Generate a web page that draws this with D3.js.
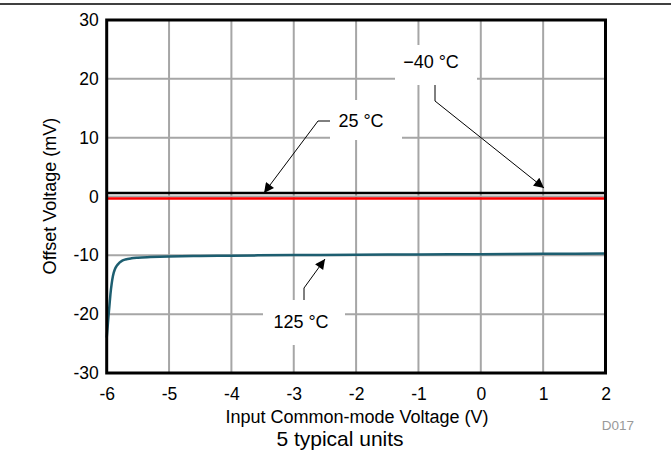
<!DOCTYPE html>
<html><head><meta charset="utf-8">
<script src="https://cdn.jsdelivr.net/npm/d3@7"></script>
<style>
body{margin:0;background:#fff;}
svg{display:block;font-family:"Liberation Sans",Arial,Helvetica,sans-serif;}
</style></head>
<body>
<svg id="chart" width="671" height="462"></svg>
<script>
const xTicks = [-6,-5,-4,-3,-2,-1,0,1,2];
const yTicks = [-30,-20,-10,0,10,20,30];
const xLabels = ["-6","-5","-4","-3","-2","-1","0","1","2"];
const yLabels = ["-30","-20","-10","0","10","20","30"];

const vcm125 = [-6.0,-5.99,-5.98,-5.97,-5.96,-5.95,-5.94,-5.92,-5.9,-5.87,-5.84,-5.8,-5.75,-5.7,-5.6,-5.5,-5.3,-5.0,-4.5,-4.0,-3.0,-2.0,-1.0,0.0,1.0,2.0];
const vos125 = [-24.0,-22.8,-21.5,-20.2,-19.0,-17.8,-16.6,-14.8,-13.5,-12.4,-11.8,-11.3,-10.9,-10.7,-10.5,-10.4,-10.3,-10.2,-10.1,-10.05,-9.95,-9.9,-9.85,-9.8,-9.75,-9.7];
const vcmFlat = [-6,-4,-2,0,2];
const vosM40 = [0.6,0.6,0.6,0.6,0.6];
const vos25 = [-0.35,-0.35,-0.35,-0.35,-0.35];

const svg = d3.select("#chart");
const L=106.7, R=605.5, T=20, B=373;
const x = d3.scaleLinear().domain([-6,2]).range([L,R]);
const y = d3.scaleLinear().domain([-30,30]).range([B,T]);

// top rule
svg.append("line").attr("x1",0).attr("x2",671).attr("y1",4).attr("y2",4)
  .attr("stroke","#000").attr("stroke-width",1.5);

// grid
const g = svg.append("g");
g.selectAll(".vx").data(xTicks.slice(1,-1)).join("line")
  .attr("x1",d=>x(d)).attr("x2",d=>x(d)).attr("y1",T).attr("y2",B)
  .attr("stroke","#a6a6a6").attr("stroke-width",2);
g.selectAll(".hy").data(yTicks.slice(1,-1)).join("line")
  .attr("y1",d=>y(d)).attr("y2",d=>y(d)).attr("x1",L).attr("x2",R)
  .attr("stroke","#a6a6a6").attr("stroke-width",2);

// label boxes (cut the grid)
const boxes = [[395,45,82,40],[330,100,72,40],[263,300,82,45]];
svg.selectAll(".box").data(boxes).join("rect")
  .attr("x",d=>d[0]).attr("y",d=>d[1]).attr("width",d=>d[2]).attr("height",d=>d[3])
  .attr("fill","#fff");

// data lines
const line = d3.line().x(d=>x(d[0])).y(d=>y(d[1]));
svg.append("path").datum(vcmFlat.map((v,i)=>[v,vosM40[i]])).attr("d",line)
  .attr("fill","none").attr("stroke","#000").attr("stroke-width",2.5);
svg.append("path").datum(vcmFlat.map((v,i)=>[v,vos25[i]])).attr("d",line)
  .attr("fill","none").attr("stroke","#ff0000").attr("stroke-width",2.5);
svg.append("path").datum(vcm125.map((v,i)=>[v,vos125[i]])).attr("d",line.curve(d3.curveMonotoneX))
  .attr("fill","none").attr("stroke","#1d5e70").attr("stroke-width",2.5);

// border
svg.append("rect").attr("x",L).attr("y",T).attr("width",R-L).attr("height",B-T)
  .attr("fill","none").attr("stroke","#000").attr("stroke-width",3);

// axes
const fs = "17.5px";
const xa = svg.append("g").attr("transform",`translate(0,${B})`)
  .call(d3.axisBottom(x).tickValues(xTicks).tickFormat((d,i)=>xLabels[i]).tickSize(0).tickPadding(15));
xa.select(".domain").remove();
xa.selectAll("text").attr("font-size",fs).attr("font-family","Liberation Sans,Arial,sans-serif").attr("fill","#000");
const ya = svg.append("g").attr("transform",`translate(${L},0)`)
  .call(d3.axisLeft(y).tickValues(yTicks).tickFormat((d,i)=>yLabels[i]).tickSize(0).tickPadding(8));
ya.select(".domain").remove();
ya.selectAll("text").attr("font-size",fs).attr("font-family","Liberation Sans,Arial,sans-serif").attr("fill","#000");

// titles
svg.append("text").attr("x",357).attr("y",423).attr("text-anchor","middle")
  .attr("font-size","18px").text("Input Common-mode Voltage (V)");
svg.append("text").attr("transform","translate(56,196) rotate(-90)").attr("text-anchor","middle")
  .attr("font-size","18px").text("Offset Voltage (mV)");
svg.append("text").attr("x",340).attr("y",446).attr("text-anchor","middle")
  .attr("font-size","21px").text("5 typical units");
svg.append("text").attr("x",618).attr("y",430).attr("text-anchor","middle")
  .attr("font-size","13.5px").attr("fill","#999").text("D017");

// annotations
const defs = svg.append("defs");
defs.append("marker").attr("id","arr").attr("viewBox","0 0 10 10").attr("refX",10).attr("refY",5)
  .attr("markerWidth",12).attr("markerHeight",10).attr("markerUnits","userSpaceOnUse").attr("orient","auto")
  .append("path").attr("d","M0,0 L10,5 L0,10 Z").attr("fill","#000");

const ann = [
  {t:"\u221240 \u00b0C", tx:431, ty:68, pts:[[435,85],[435,101],[544,188]]},
  {t:"25 \u00b0C", tx:361, ty:127, pts:[[330,121],[318,121],[264,193]]},
  {t:"125 \u00b0C", tx:301, ty:328, pts:[[304,300],[304,288],[325,259]]}
];
ann.forEach(a=>{
  svg.append("text").attr("x",a.tx).attr("y",a.ty).attr("text-anchor","middle")
    .attr("font-size","18px").text(a.t);
  svg.append("path").attr("d",d3.line()(a.pts)).attr("fill","none")
    .attr("stroke","#000").attr("stroke-width",1).attr("marker-end","url(#arr)");
});
</script>
</body></html>
